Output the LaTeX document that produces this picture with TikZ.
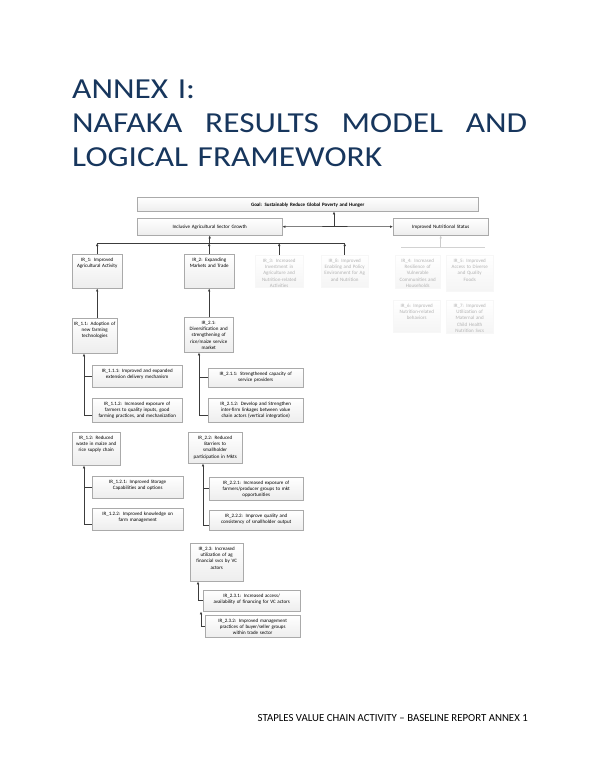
\documentclass[tikz,border=0pt]{standalone}
\usepackage{fontspec}
\setmainfont{Carlito}
\newfontfamily\titlefont[FakeStretch=1.15]{Carlito}
\usetikzlibrary{
  arrows.meta,
  positioning,
  shadows
}
\definecolor{titleblue}{RGB}{23,54,93}
\definecolor{linegray}{RGB}{60,60,60}
\definecolor{boxline}{RGB}{170,170,170}
\definecolor{fadetext}{RGB}{178,178,178}
\newcommand{\boxfont}{\fontsize{5}{6.3}\selectfont}

\begin{document}
\begin{tikzpicture}[
  x=1pt, y=-1pt,
  box/.style={draw=boxline, line width=0.4pt, top color=white, bottom color=gray!14,
    drop shadow={opacity=0.15, shadow xshift=0.8pt, shadow yshift=-0.8pt},
    anchor=north west, align=center, text width=#1, inner xsep=1pt, inner ysep=3pt,
    text height=4pt, font=\boxfont},
  fadebox/.style={box=#1, draw=gray!6, bottom color=gray!8, text=fadetext},
  arrow/.style={-{Latex[length=3pt,width=2.6pt]}, draw=linegray, line width=0.6pt},
  link/.style={draw=linegray, line width=0.6pt}
]
  \fill[white] (0,0) rectangle (600,777);
  \useasboundingbox (0,0) rectangle (600,777);

  % Title and footer
  \node[anchor=north west, inner sep=0, text width=455pt, align=left, text=titleblue,
    font=\titlefont\fontsize{29}{34}\selectfont] (title) at (72,80)
    {ANNEX I:\\NAFAKA\hfill RESULTS\hfill MODEL\hfill AND\\LOGICAL FRAMEWORK};
  \node[anchor=base east, inner sep=0, font=\fontsize{10.8}{13}\selectfont] (foot) at (528,721)
    {STAPLES VALUE CHAIN ACTIVITY – BASELINE REPORT ANNEX 1};

  % Goal and sector level
  \node[box=339pt, text height=6pt, text depth=2pt, font=\boxfont\bfseries] (goal) at (137,197)
    {Goal: Sustainably Reduce Global Poverty and Hunger};
  \node[box=143pt, text height=7.5pt, text depth=3.5pt] (incl) at (137,218)
    {Inclusive Agricultural Sector Growth};
  \node[box=93pt, text height=7.5pt, text depth=3.5pt] (nut) at (393,218)
    {Improved Nutritional Status};
  \coordinate (hub) at (334,226.5);
  \draw[arrow] (hub) -- (incl.east);
  \draw[arrow] (hub) -- (nut.west);
  \draw[arrow] (hub) -- (hub |- goal.south);

  % Intermediate results
  \node[box=48pt, text depth=24pt] (ir1) at (72,254) {IR\_1: Improved\\Agricultural Activity};
  \node[box=48pt, text depth=24pt] (ir2) at (184,254) {IR\_2: Expanding\\Markets and Trade};
  \node[fadebox=46pt, text depth=22pt] (ir3) at (255,255)
    {IR\_3: Increased\\Investment in\\Agriculture and\\Nutrition-related\\Activities};
  \node[fadebox=45pt, text depth=22pt] (ir8) at (321,255)
    {IR\_8: Improved\\Enabling and Policy\\Environment for Ag\\and Nutrition};
  \node[fadebox=43pt, text depth=23pt] (ir4) at (395,255)
    {IR\_4: Increased\\Resilience of\\Vulnerable\\Communities and\\Households};
  \node[fadebox=45pt, text depth=26pt] (ir5) at (446,255)
    {IR\_5: Improved\\Access to Diverse\\and Quality\\Foods};
  \node[fadebox=45pt, text depth=22pt] (ir6) at (393,300)
    {IR\_6: Improved\\Nutrition-related\\behaviors};
  \node[fadebox=45pt, text depth=23pt] (ir7) at (446,300)
    {IR\_7: Improved\\Utilization of\\Maternal and\\Child Health\\Nutrition Svcs};

  \coordinate (bus) at (0,243);
  \coordinate (gbus) at (0,247);
  \draw[link] (ir1.north |- bus) -- (ir8.north |- bus);
  \foreach \n in {ir1,ir2,ir3,ir8} {
    \draw[arrow] (\n.north) -- (\n.north |- bus);
  }
  \draw[arrow] (incl.south |- bus) -- (incl.south);
  \coordinate (gl) at (401,247);
  \coordinate (gr) at (485,247);
  \draw[gray!35, line width=0.6pt] (gl) -- (gr);
  \draw[arrow, draw=gray!40] (nut.south |- gbus) -- (nut.south);

  % IR_1 branch
  \node[box=43pt, text depth=25pt] (ir11) at (72,318) {IR\_1.1: Adoption of\\new farming\\technologies};
  \node[box=88pt, text depth=12pt] (ir111) at (92,365)
    {IR\_1.1.1: Improved and expanded\\extension delivery mechanism};
  \node[box=88pt, text depth=14pt] (ir112) at (92,398)
    {IR\_1.1.2: Increased exposure of\\farmers to quality inputs, good\\farming practices, and mechanization};
  \node[box=46pt, text depth=23pt] (ir12) at (72,432) {IR\_1.2: Reduced\\waste in maize and\\rice supply chain};
  \node[box=89pt, text depth=12pt] (ir121) at (92,476)
    {IR\_1.2.1: Improved Storage\\Capabilities and options};
  \node[box=89pt, text depth=12pt] (ir122) at (92,508)
    {IR\_1.2.2: Improved knowledge on\\farm management};

  % IR_2 branch
  \node[box=47pt, text depth=25pt] (ir21) at (184,317)
    {IR\_2.1:\\Diversification and\\strengthening of\\rice/maize service\\market};
  \node[box=93pt, text depth=9pt] (ir211) at (208,368)
    {IR\_2.1.1: Strengthened capacity of\\service providers};
  \node[box=93pt, text depth=14pt] (ir212) at (208,398)
    {IR\_2.1.2: Develop and Strengthen\\inter-firm linkages between value\\chain actors (vertical integration)};
  \node[box=52pt, text depth=21pt] (ir22) at (188,432)
    {IR\_2.2: Reduced\\Barriers to\\smallholder\\participation in Mkts};
  \node[box=92pt, text depth=13pt] (ir221) at (209,477)
    {IR\_2.2.1: Increased exposure of\\farmers/producer groups to mkt\\opportunities};
  \node[box=92pt, text depth=10pt] (ir222) at (209,510)
    {IR\_2.2.2: Improve quality and\\consistency of smallholder output};
  \node[box=51pt, text depth=28pt] (ir23) at (190,543)
    {IR\_2.3: Increased\\utilization of ag\\financial svcs by VC\\actors};
  \node[box=95pt, text depth=11pt] (ir231) at (203,590)
    {IR\_2.3.1: Increased access/\\availability of financing for VC actors};
  \node[box=93pt, text depth=12pt] (ir232) at (205,615)
    {IR\_2.3.2: Improved management\\practices of buyer/seller groups\\within trade sector};

  % Connections
  \draw[arrow] (ir1.south |- ir11.north) -- (ir1.south);
  \draw[arrow] (ir2.south |- ir21.north) -- (ir2.south);
  \coordinate (sp11) at (84,0);
  \coordinate (sp12) at (84,0);
  \coordinate (sp21) at (199,0);
  \coordinate (sp22) at (203,0);
  \foreach \p/\a/\b/\s in {ir11/ir111/ir112/sp11, ir12/ir121/ir122/sp12,
                           ir21/ir211/ir212/sp21, ir22/ir221/ir222/sp22} {
    \draw[arrow] ([yshift=-5pt]\b.west) -| (\s |- \p.south);
    \draw[link] (\a.west) -- (\a.west -| \s);
  }
  \coordinate (sp23) at (198,0);
  \coordinate (sp231) at (201,0);
  \draw[arrow] (ir231.west) -| (sp23 |- ir23.south);
  \draw[arrow] (ir232.west) -| (sp231 |- ir231.south);
\end{tikzpicture}
\end{document}
